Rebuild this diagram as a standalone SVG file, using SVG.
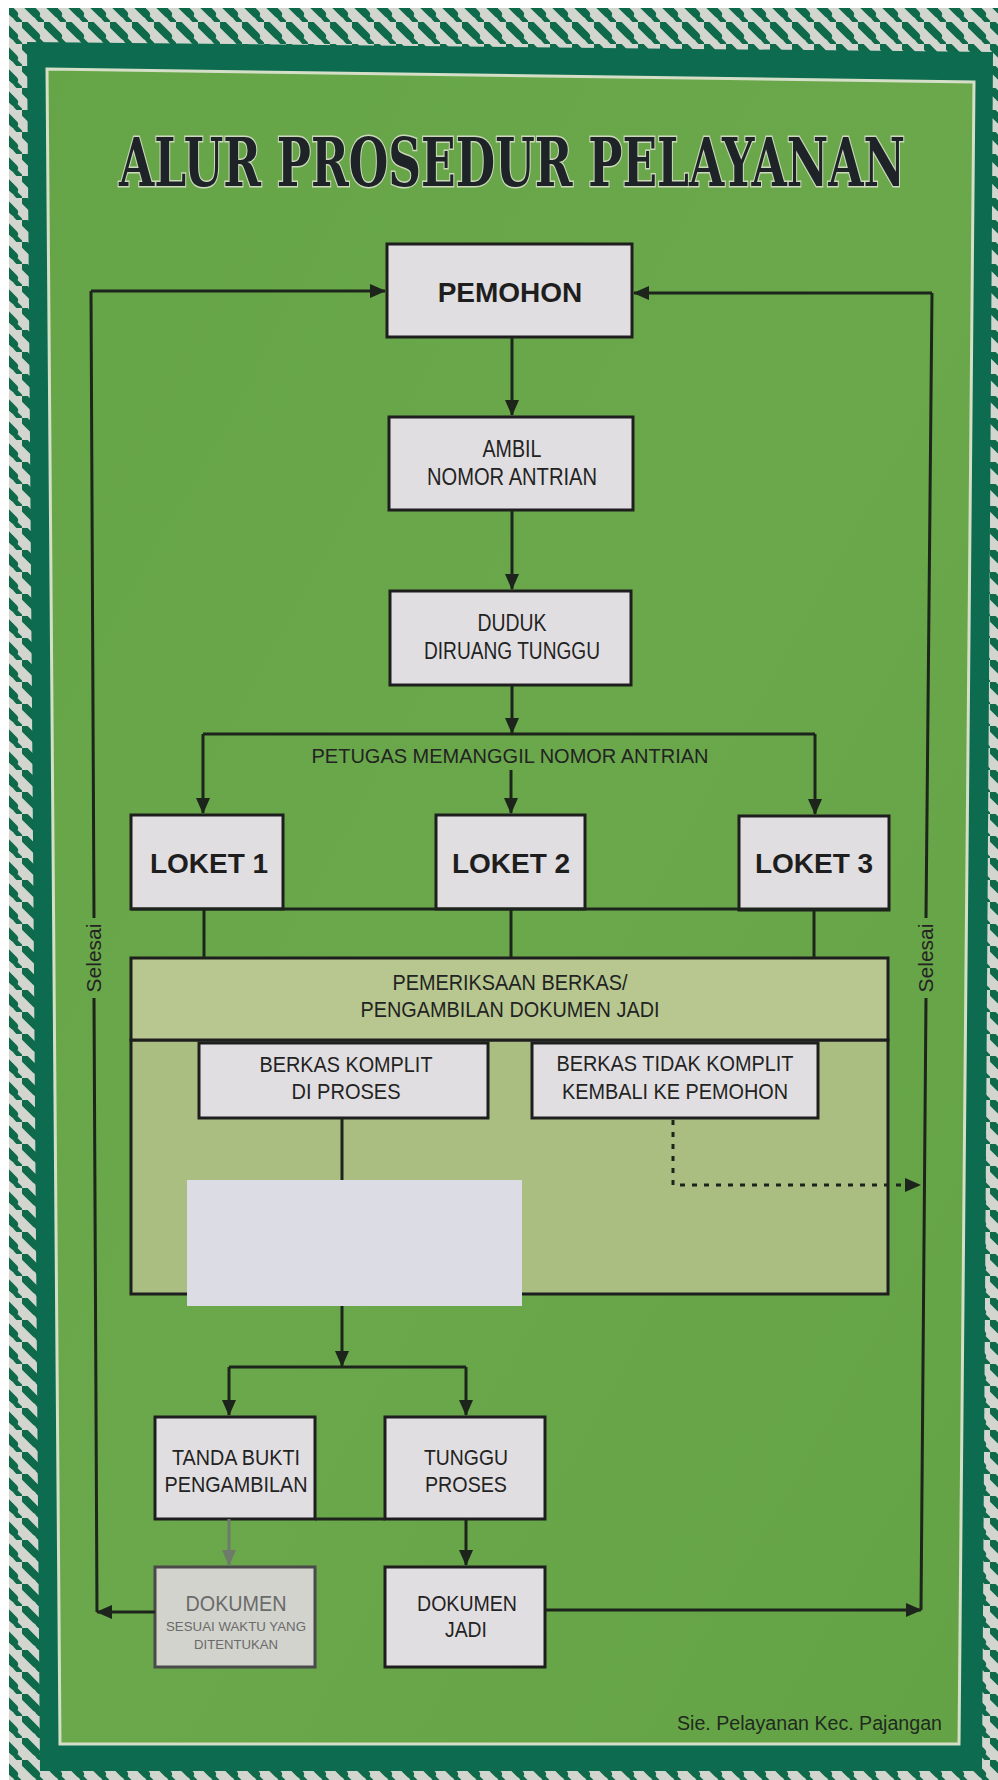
<svg xmlns="http://www.w3.org/2000/svg" width="998" height="1780" viewBox="0 0 998 1780">
<defs>
<style>
.box{fill:#e1dee1;stroke:#1e1e1e;stroke-width:3}
.t{font-family:"Liberation Sans",Arial,sans-serif;fill:#232323;text-anchor:middle}
.tb{font-family:"Liberation Sans",Arial,sans-serif;font-weight:bold;fill:#1e1e1e;text-anchor:middle}
.ln{fill:none;stroke:#1c241c;stroke-width:3}
.arr{fill:none;stroke:#1c241c;stroke-width:3;marker-end:url(#ah)}
</style>
<marker id="ah" markerUnits="userSpaceOnUse" markerWidth="16" markerHeight="14" refX="15" refY="7" orient="auto">
<path d="M0,0 L16,7 L0,14 Z" fill="#1c241c"/>
</marker>
<marker id="ahg" markerUnits="userSpaceOnUse" markerWidth="16" markerHeight="14" refX="15" refY="7" orient="auto">
<path d="M0,0 L16,7 L0,14 Z" fill="#6e7a6a"/>
</marker>
<pattern id="bd" patternUnits="userSpaceOnUse" width="22" height="22">
<rect width="22" height="22" fill="#d3d6cf"/>
<path d="M2,2 L14,14" stroke="#0f6a4c" stroke-width="8" stroke-linecap="round"/>
<path d="M16,18 L20,22" stroke="#0f6a4c" stroke-width="5" stroke-linecap="round"/>
</pattern>
<linearGradient id="gp" x1="0" y1="0" x2="1" y2="1">
<stop offset="0" stop-color="#66a547"/>
<stop offset="0.5" stop-color="#6aa84b"/>
<stop offset="1" stop-color="#64a246"/>
</linearGradient>
</defs>
<rect width="998" height="1780" fill="#ffffff"/>
<rect x="9" y="8" width="989" height="1772" fill="url(#bd)"/>
<polygon points="27,42 993,52 982,1771 40,1771" fill="#0d6b4f"/>
<polygon points="47,69 974,82 959,1744 60,1744" fill="url(#gp)" stroke="#d5dfc8" stroke-width="3"/>

<g id="title" transform="translate(512,186) scale(0.68,1)">
<text x="0" y="0" font-family="'DejaVu Serif',serif" font-weight="bold" font-size="68" fill="#1d2326" stroke="#cdd8bd" stroke-width="3" paint-order="stroke" text-anchor="middle" textLength="1156" lengthAdjust="spacingAndGlyphs">ALUR PROSEDUR PELAYANAN</text>
</g>

<g id="pemohon">
<rect class="box" x="387" y="244" width="245" height="93"/>
<text class="tb" x="510" y="302" font-size="28">PEMOHON</text>
</g>
<g id="ambil">
<rect class="box" x="389" y="417" width="244" height="93"/>
<text class="t" x="512" y="457" font-size="23" textLength="59" lengthAdjust="spacingAndGlyphs">AMBIL</text>
<text class="t" x="512" y="485" font-size="23" textLength="170" lengthAdjust="spacingAndGlyphs">NOMOR ANTRIAN</text>
</g>
<g id="duduk">
<rect class="box" x="390" y="591" width="241" height="94"/>
<text class="t" x="512" y="631" font-size="23" textLength="69" lengthAdjust="spacingAndGlyphs">DUDUK</text>
<text class="t" x="512" y="659" font-size="23" textLength="176" lengthAdjust="spacingAndGlyphs">DIRUANG TUNGGU</text>
</g>
<g id="petugas">
<text class="t" x="510" y="763" font-size="21" textLength="397" lengthAdjust="spacingAndGlyphs">PETUGAS MEMANGGIL NOMOR ANTRIAN</text>
</g>
<g id="loket1">
<rect class="box" x="131" y="815" width="152" height="94"/>
<text class="tb" x="209" y="873" font-size="28">LOKET 1</text>
</g>
<g id="loket2">
<rect class="box" x="436" y="815" width="149" height="94"/>
<text class="tb" x="511" y="873" font-size="28">LOKET 2</text>
</g>
<g id="loket3">
<rect class="box" x="739" y="816" width="150" height="94"/>
<text class="tb" x="814" y="873" font-size="28">LOKET 3</text>
</g>
<g id="pemeriksaan">
<rect x="131" y="1040" width="757" height="254" fill="#aabe82" stroke="#1e1e1e" stroke-width="3"/>
<rect x="131" y="958" width="757" height="82" fill="#b7c78f" stroke="#1e1e1e" stroke-width="3"/>
<text class="t" x="510" y="990" font-size="22" textLength="235" lengthAdjust="spacingAndGlyphs">PEMERIKSAAN BERKAS/</text>
<text class="t" x="510" y="1017" font-size="22" textLength="299" lengthAdjust="spacingAndGlyphs">PENGAMBILAN DOKUMEN JADI</text>
</g>
<g id="komplit">
<rect class="box" x="199" y="1043" width="289" height="75"/>
<text class="t" x="346" y="1072" font-size="22" textLength="173" lengthAdjust="spacingAndGlyphs">BERKAS KOMPLIT</text>
<text class="t" x="346" y="1099" font-size="22" textLength="109" lengthAdjust="spacingAndGlyphs">DI PROSES</text>
</g>
<g id="tidak-komplit">
<rect class="box" x="532" y="1043" width="286" height="75"/>
<text class="t" x="675" y="1071" font-size="22" textLength="237" lengthAdjust="spacingAndGlyphs">BERKAS TIDAK KOMPLIT</text>
<text class="t" x="675" y="1099" font-size="22" textLength="226" lengthAdjust="spacingAndGlyphs">KEMBALI KE PEMOHON</text>
</g>
<g id="tanda-bukti">
<rect class="box" x="155" y="1417" width="160" height="102"/>
<text class="t" x="236" y="1465" font-size="22" textLength="128" lengthAdjust="spacingAndGlyphs">TANDA BUKTI</text>
<text class="t" x="236" y="1492" font-size="22" textLength="143" lengthAdjust="spacingAndGlyphs">PENGAMBILAN</text>
</g>
<g id="tunggu">
<rect class="box" x="385" y="1417" width="160" height="102"/>
<text class="t" x="466" y="1465" font-size="22" textLength="84" lengthAdjust="spacingAndGlyphs">TUNGGU</text>
<text class="t" x="466" y="1492" font-size="22" textLength="82" lengthAdjust="spacingAndGlyphs">PROSES</text>
</g>
<g id="dokumen">
<rect x="155" y="1567" width="160" height="100" fill="#d2d3cd" stroke="#4a4a4a" stroke-width="3"/>
<text x="236" y="1611" font-family="'Liberation Sans',Arial,sans-serif" font-size="22" fill="#6a6a6a" text-anchor="middle" textLength="101" lengthAdjust="spacingAndGlyphs">DOKUMEN</text>
<text x="236" y="1631" font-family="'Liberation Sans',Arial,sans-serif" font-size="13" fill="#6a6a6a" text-anchor="middle" textLength="140" lengthAdjust="spacingAndGlyphs">SESUAI WAKTU YANG</text>
<text x="236" y="1649" font-family="'Liberation Sans',Arial,sans-serif" font-size="13" fill="#6a6a6a" text-anchor="middle" textLength="84" lengthAdjust="spacingAndGlyphs">DITENTUKAN</text>
</g>
<g id="dokumen-jadi">
<rect class="box" x="385" y="1567" width="160" height="100"/>
<text class="t" x="467" y="1611" font-size="22" textLength="100" lengthAdjust="spacingAndGlyphs">DOKUMEN</text>
<text class="t" x="466" y="1637" font-size="22" textLength="42" lengthAdjust="spacingAndGlyphs">JADI</text>
</g>

<g id="connectors">
<path class="arr" d="M512,337 V415"/>
<path class="arr" d="M512,510 V589"/>
<path class="arr" d="M512,685 V733"/>
<path class="ln" d="M203,734 H815"/>
<path class="arr" d="M203,734 V813"/>
<path class="arr" d="M815,734 V814"/>
<path class="arr" d="M511,770 V813"/>
<path class="ln" d="M131,909 H889"/>
<path class="ln" d="M204,909 V958 M511,909 V958 M814,909 V958"/>
<path class="ln" d="M342,1118 V1182"/>
<path class="arr" d="M342,1306 V1366"/>
<path class="ln" d="M229,1367 H466"/>
<path class="arr" d="M229,1367 V1415"/>
<path class="arr" d="M466,1367 V1415"/>
<path class="ln" d="M315,1519 H385"/>
<path d="M229,1519 V1565" fill="none" stroke="#6e7a6a" stroke-width="3" marker-end="url(#ahg)"/>
<path class="arr" d="M466,1519 V1565"/>
<path d="M673,1120 V1185 H920" fill="none" stroke="#1c241c" stroke-width="3" stroke-dasharray="5,7" marker-end="url(#ah)"/>
<path class="arr" d="M155,1612 H97"/>
<path class="ln" d="M97,1612 L94,998 M94,918 L91,291"/>
<path class="arr" d="M91,291 H385"/>
<path class="arr" d="M545,1610 H921"/>
<path class="ln" d="M921,1610 L926,998 M926,918 L932,293"/>
<path class="arr" d="M932,293 H634"/>
<text x="94" y="958" class="t" font-size="21" transform="rotate(-90 94 958)" dy="7">Selesai</text>
<text x="926" y="958" class="t" font-size="21" transform="rotate(-90 926 958)" dy="7">Selesai</text>
</g>

<g id="patch">
<rect x="187" y="1180" width="335" height="126" fill="#dcdce5"/>
</g>
<g id="footer">
<text x="942" y="1730" font-family="'Liberation Sans',Arial,sans-serif" font-size="20" fill="#1f2a1f" text-anchor="end" textLength="265" lengthAdjust="spacingAndGlyphs">Sie. Pelayanan Kec. Pajangan</text>
</g>
</svg>
